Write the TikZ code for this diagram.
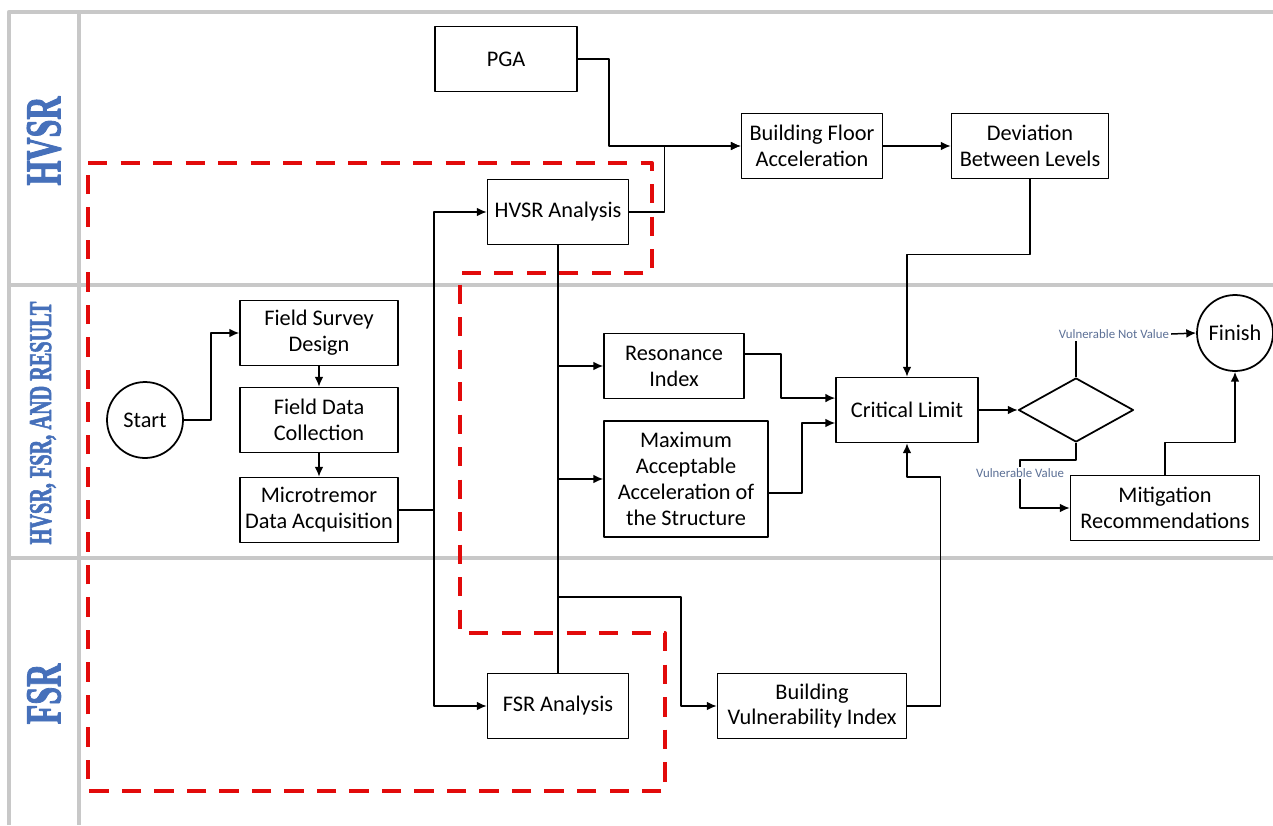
\documentclass[tikz,border=0pt]{standalone}
\usepackage{fontspec}
\usepackage{graphicx}
\setmainfont{Carlito}
\newfontfamily\lanefont[BoldFeatures={FakeBold=2.5}]{Liberation Serif}
\usetikzlibrary{shapes.geometric,arrows.meta}

\definecolor{lanegray}{RGB}{200,200,200}
\definecolor{laneblue}{RGB}{70,112,186}
\definecolor{dashred}{RGB}{226,10,10}
\definecolor{notegray}{RGB}{92,112,150}

\begin{document}
\begin{tikzpicture}[x=0.02cm, y=-0.02cm, line join=round,
    box/.style={draw, line width=1pt, minimum height=1.3cm, align=center,
      inner sep=1pt, font=\fontsize{12.7}{14.7}\selectfont},
    circ/.style={draw, circle, line width=1pt, minimum size=1.52cm,
      inner sep=0pt, font=\fontsize{12.7}{14.7}\selectfont},
    decision/.style={draw, diamond, line width=1pt, minimum width=2.3cm,
      minimum height=1.28cm, inner sep=0pt},
    conn/.style={line width=0.85pt},
    arrow/.style={conn, -{Latex[length=5.6pt,width=5pt]}},
    note/.style={text=notegray, inner sep=1pt, font=\fontsize{7.3}{8}\selectfont},
    lane/.style={draw=lanegray, line width=2.4pt},
    lanelabel/.style={text=laneblue, rotate=90, inner sep=0pt},
    redbound/.style={draw=dashred, line width=2.3pt, dash pattern=on 11pt off 7.5pt}]

  \useasboundingbox (0,0) rectangle (1273,825);

  % lanes
  \draw[lane] (9,825) -- (9,12) -- (1273,12);
  \draw[lane] (79,12) -- (79,825);
  \draw[lane] (9,285) -- (1273,285);
  \draw[lane] (9,558) -- (1273,558);

  \node[lanelabel] (lhvsr) at (44,141)
    {\scalebox{0.64}[1]{\lanefont\bfseries\fontsize{28.5}{29}\selectfont HVSR}};
  \node[lanelabel] (lmid) at (43,423)
    {\scalebox{0.64}[1]{\lanefont\bfseries\fontsize{18}{19}\selectfont HVSR, FSR, AND RESULT}};
  \node[lanelabel] (lfsr) at (44,694)
    {\scalebox{0.64}[1]{\lanefont\bfseries\fontsize{28.5}{29}\selectfont FSR}};

  % red dashed boundary
  \draw[redbound] (88,163) -- (652,163) -- (652,273) -- (460,273) -- (460,633)
    -- (665,633) -- (665,791) -- (88,791) -- cycle;

  % nodes
  \node[box, minimum width=2.84cm] (pga) at (506,59) {PGA};
  \node[box, minimum width=2.82cm] (hvsr) at (558,212) {HVSR Analysis};
  \node[box, minimum width=2.82cm] (bfa) at (812,146) {Building Floor\\Acceleration};
  \node[box, minimum width=3.14cm] (dbl) at (1030,146) {Deviation\\Between Levels};
  \node[circ] (start) at (145,420) {Start};
  \node[box, minimum width=3.16cm] (fsd) at (319,333) {Field Survey\\Design};
  \node[box, minimum width=3.16cm] (fdc) at (319,420) {Field Data\\Collection};
  \node[box, minimum width=3.16cm] (mda) at (319,510) {Microtremor\\Data Acquisition};
  \node[box, minimum width=2.8cm] (ri) at (674,366) {Resonance\\Index};
  \node[box, minimum width=3.28cm, minimum height=2.32cm] (maa) at (686,479)
    {Maximum\\Acceptable\\Acceleration of\\the Structure};
  \node[box, minimum width=2.84cm] (cl) at (907,410) {Critical Limit};
  \node[decision] (dia) at (1076,410) {};
  \node[circ] (fin) at (1235,333) {Finish};
  \node[box, minimum width=3.78cm] (mr) at (1165,508) {Mitigation\\Recommendations};
  \node[box, minimum width=2.82cm] (fsr) at (558,706) {FSR Analysis};
  \node[box, minimum width=3.78cm] (bvi) at (812,706) {Building\\Vulnerability Index};
  \node[note] (vnv) at (1114,334) {Vulnerable Not Value};

  % survey chain
  \draw[arrow] (start.east) -- ++(27,0) |- (fsd.west);
  \draw[arrow] (fsd) -- (fdc);
  \draw[arrow] (fdc) -- (mda);
  \draw[conn] (mda.east) -- ++(35,0) coordinate (split);
  \draw[arrow] (split) |- (hvsr.west);
  \draw[arrow] (split) |- (fsr.west);

  % top lane
  \draw[arrow] (pga.east) -- ++(31,0) |- (bfa.west);
  \draw[arrow] (hvsr.east) -- ++(35,0) |- (bfa.west);
  \draw[arrow] (bfa) -- (dbl);
  \draw[arrow] (dbl.south) -- ++(0,75) -| (cl.north);

  % trunk between the analyses
  \draw[conn] (hvsr.south) -- (fsr.north);
  \coordinate (fork) at (558,597);
  \draw[arrow] (hvsr.south |- ri.west) -- (ri.west);
  \draw[arrow] (hvsr.south |- maa.west) -- (maa.west);
  \draw[arrow] (fork) -- ++(123,0) |- (bvi.west);

  % into critical limit
  \draw[arrow] ([yshift=6.8pt]ri.east) -- ++(36,0) |- ([yshift=6.8pt]cl.west);
  \draw[arrow] ([yshift=-8pt]maa.east) -- ++(33,0) |- ([yshift=-7.4pt]cl.west);
  \draw[arrow] (bvi.east) -- ++(33,0) -- ++(0,-229) -| (cl.south);

  % decision
  \draw[arrow] (cl.east) -- (dia.west);
  \draw[conn] (dia.north) -- (dia.north |- vnv.south);
  \draw[arrow] (vnv.east) -- (fin.west);
  \coordinate (vvbend) at (1020,460);
  \draw[arrow] (dia.south) |- (vvbend) |- (mr.west)
    node[pos=0.135, note, fill=white] (vv) {Vulnerable Value};
  \draw[arrow] (mr.north) -- ++(0,-32) -| (fin.south);

\end{tikzpicture}
\end{document}
